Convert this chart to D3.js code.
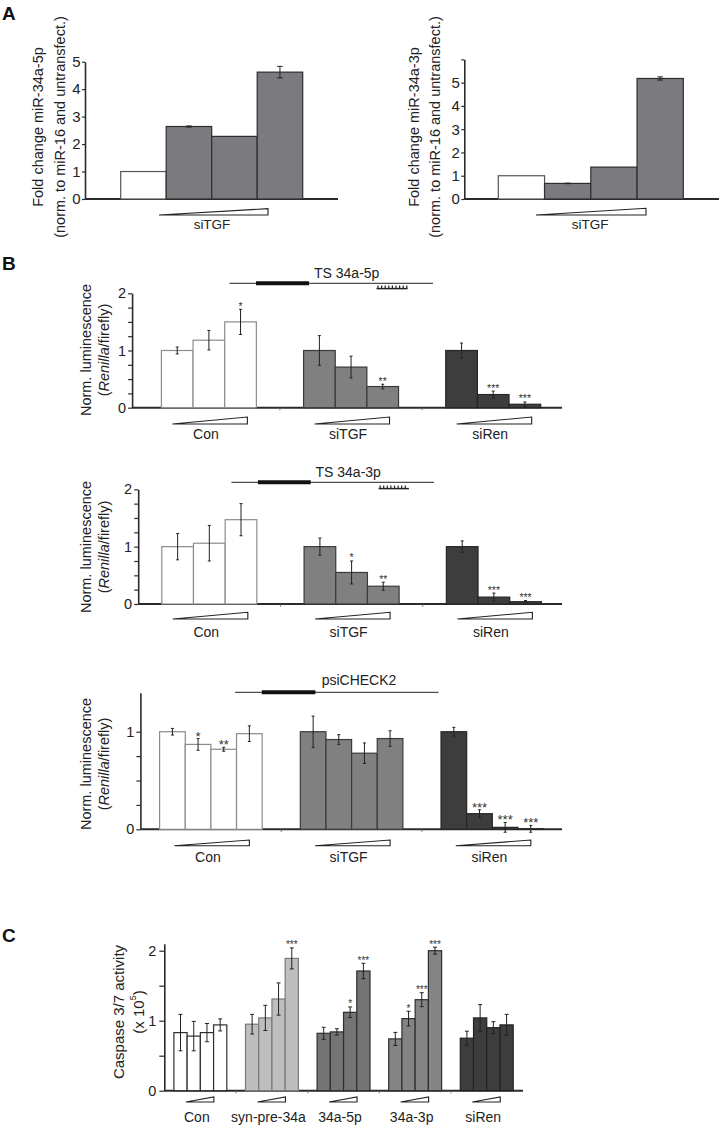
<!DOCTYPE html>
<html><head><meta charset="utf-8">
<script src="https://cdn.jsdelivr.net/npm/d3@7"></script>
<style>
body{margin:0;background:#fff}
svg{display:block;font-family:"Liberation Sans",Arial,Helvetica,sans-serif}
</style></head><body>
<svg id="fig" width="719" height="1127"></svg>
<script>
// ---------------- Panel A data ----------------
const aCategories = ["untransfected", "siTGF low", "siTGF mid", "siTGF high"];
const a5pValues = [1.00, 2.64, 2.28, 4.62];
const a5pErrors = [0, 0.02, 0, 0.21];
const a3pValues = [1.00, 0.67, 1.37, 5.18];
const a3pErrors = [0, 0.01, 0, 0.07];
const a5pTicks = [0, 1, 2, 3, 4, 5];
const a3pTicks = [0, 1, 2, 3, 4, 5, 6];
const a3pTickLabels = ["0", "1", "2", "3", "4", "5", ""];

// ---------------- Panel B data ----------------
const bGroups = ["Con", "siTGF", "siRen"];
const b5pValues = [[1.00, 1.18, 1.50], [1.00, 0.71, 0.37], [1.00, 0.23, 0.06]];
const b5pErrors = [[0.06, 0.17, 0.22], [0.26, 0.19, 0.04], [0.13, 0.06, 0.04]];
const b5pStars  = [["", "", "*"], ["", "", "**"], ["", "***", "***"]];
const b3pValues = [[1.00, 1.06, 1.47], [1.00, 0.55, 0.31], [1.00, 0.12, 0.04]];
const b3pErrors = [[0.23, 0.31, 0.28], [0.15, 0.20, 0.07], [0.10, 0.07, 0.02]];
const b3pStars  = [["", "", ""], ["", "*", "**"], ["", "***", "***"]];
const bPsiValues = [[1.00, 0.87, 0.82, 0.98], [1.00, 0.92, 0.78, 0.93], [1.00, 0.16, 0.02, 0.005]];
const bPsiErrors = [[0.034, 0.06, 0.02, 0.08], [0.16, 0.05, 0.105, 0.08], [0.045, 0.04, 0.05, 0.035]];
const bPsiStars  = [["", "*", "**", ""], ["", "", "", ""], ["", "***", "***", "***"]];
const bTicks = [0, 0.25, 0.5, 0.75, 1, 1.25, 1.5, 1.75, 2];
const bTickLabels = ["0", "", "", "", "1", "", "", "", "2"];
const bPsiTicks = [0, 0.25, 0.5, 0.75, 1];
const bPsiTickLabels = ["0", "", "", "", "1"];

// ---------------- Panel C data ----------------
const cGroups = ["Con", "syn-pre-34a", "34a-5p", "34a-3p", "siRen"];
const cValues = [[0.83, 0.78, 0.83, 0.94], [0.95, 1.04, 1.31, 1.89], [0.82, 0.84, 1.12, 1.71], [0.74, 1.03, 1.30, 2.00], [0.75, 1.04, 0.90, 0.94]];
const cErrors = [[0.26, 0.21, 0.13, 0.086], [0.14, 0.18, 0.23, 0.15], [0.086, 0.045, 0.076, 0.11], [0.093, 0.105, 0.10, 0.05], [0.10, 0.19, 0.086, 0.15]];
const cStars  = [["", "", "", ""], ["", "", "", "***"], ["", "", "*", "***"], ["", "*", "***", "***"], ["", "", "", ""]];
const cTicks = [0, 0.5, 1, 1.5, 2];
const cTickLabels = ["0", "", "1", "", "2"];

const svg = d3.select("#fig");
const FONT = '"Liberation Sans", Arial, Helvetica, sans-serif';

function panel(o) {
  const g = svg.append("g");
  const y = d3.scaleLinear().domain(o.yDomain).range(o.yRange);
  const outer = d3.scaleBand().domain(o.groups).range(o.xRange).paddingInner(o.pad || 0).paddingOuter(0);
  const n = o.values[0].length;
  const inner = d3.scaleBand().domain(d3.range(n)).range([0, outer.bandwidth()]);
  const rows = [];
  o.groups.forEach((gname, gi) => o.values[gi].forEach((v, i) => rows.push({
    gname, gi, i, v, e: o.errors[gi][i], s: o.stars ? o.stars[gi][i] : "",
    fill: o.fill(gi, i), stroke: o.stroke(gi, i)
  })));
  const bx = d => outer(d.gname) + inner(d.i);
  const cx = d => bx(d) + inner.bandwidth() / 2;

  // baseline
  g.append("line").attr("x1", o.axisX).attr("x2", o.baseEnd).attr("y1", y(0)).attr("y2", y(0))
    .attr("stroke", "#2b2b2b").attr("stroke-width", o.baseWidth || 2);
  // separators ticks on baseline
  if (o.sepTicks) {
    const gap = outer.step() - outer.bandwidth();
    o.groups.slice(1).forEach(gn => {
      const sx = outer(gn) - gap / 2;
      g.append("line").attr("x1", sx).attr("x2", sx).attr("y1", y(0)).attr("y2", y(0) + 2.5)
        .attr("stroke", "#666").attr("stroke-width", 1);
    });
  }
  // bars
  g.selectAll("rect.bar").data(rows).join("rect").attr("class", "bar")
    .attr("x", bx).attr("y", d => y(d.v)).attr("width", inner.bandwidth())
    .attr("height", d => y(0) - y(d.v))
    .attr("fill", d => d.fill).attr("stroke", d => d.stroke).attr("stroke-width", o.barStroke || 1.2);
  // error bars
  const eb = rows.filter(d => d.e > 0);
  const cw = o.capW / 2;
  g.selectAll("line.err").data(eb).join("line").attr("class", "err")
    .attr("x1", cx).attr("x2", cx).attr("y1", d => y(d.v + d.e)).attr("y2", d => y(d.v - d.e))
    .attr("stroke", "#222").attr("stroke-width", 1);
  g.selectAll("line.capt").data(eb).join("line").attr("class", "capt")
    .attr("x1", d => cx(d) - cw).attr("x2", d => cx(d) + cw).attr("y1", d => y(d.v + d.e)).attr("y2", d => y(d.v + d.e))
    .attr("stroke", "#222").attr("stroke-width", 1);
  g.selectAll("line.capb").data(eb).join("line").attr("class", "capb")
    .attr("x1", d => cx(d) - cw).attr("x2", d => cx(d) + cw).attr("y1", d => y(d.v - d.e)).attr("y2", d => y(d.v - d.e))
    .attr("stroke", "#222").attr("stroke-width", 1);
  // stars
  g.selectAll("text.star").data(rows.filter(d => d.s)).join("text").attr("class", "star")
    .attr("x", cx).attr("y", d => y(d.v + d.e) + o.starDy)
    .attr("text-anchor", "middle").attr("font-size", o.starFont).attr("fill", "#333")
    .attr("font-family", FONT).text(d => d.s);
  // y axis
  const axis = d3.axisLeft(y).tickValues(o.ticks).tickSize(o.tickLen).tickSizeOuter(0)
    .tickPadding(o.tickPad).tickFormat((d, i) => o.tickLabels[i]);
  const ag = g.append("g").attr("transform", `translate(${o.axisX},0)`).call(axis)
    .attr("font-family", FONT).attr("font-size", o.tickFont);
  ag.select(".domain").attr("stroke", "#2b2b2b").attr("stroke-width", 1.6);
  ag.selectAll(".tick line").attr("stroke", "#2b2b2b").attr("stroke-width", 1.2);
  ag.selectAll(".tick text").attr("fill", "#222");
  // wedges + group labels
  o.groups.forEach((gn, gi) => {
    const c = (o.wedgeCenter ? o.wedgeCenter : outer(gn) + outer.bandwidth() / 2) + o.wedgeShift;
    const x0 = c - o.wedgeW / 2, x1 = c + o.wedgeW / 2;
    g.append("path").attr("d", `M${x0},${o.wedgeY[1]}L${x1},${o.wedgeY[0]}L${x1},${o.wedgeY[1]}Z`)
      .attr("fill", "#fff").attr("stroke", "#222").attr("stroke-width", 1.1).attr("stroke-linejoin", "miter");
    const lab = o.groupLabels ? o.groupLabels[gi] : gn;
    g.append("text").attr("x", c + o.labelShift).attr("y", o.labelY).attr("text-anchor", "middle")
      .attr("font-size", o.labelFont).attr("fill", "#222").attr("font-family", FONT).text(lab);
  });
  // y label
  o.yLabel.forEach((ln, k) => {
    const t = g.append("text").attr("transform", `translate(${o.yLabelX[k]},${o.yLabelCY}) rotate(-90)`)
      .attr("text-anchor", "middle").attr("dominant-baseline", "central")
      .attr("font-size", o.yLabelFont).attr("fill", "#222").attr("font-family", FONT);
    ln.forEach(seg => {
      const ts = t.append("tspan").text(seg.t);
      if (seg.i) ts.attr("font-style", "italic");
      if (seg.sup) ts.attr("baseline-shift", "super").attr("font-size", o.yLabelFont * 0.6);
    });
  });
  return { y, outer };
}

function construct(c) {
  const g = svg.append("g");
  g.append("text").attr("x", c.tx).attr("y", c.ty).attr("text-anchor", "middle")
    .attr("font-size", 14).attr("fill", "#222").attr("font-family", FONT).text(c.title);
  g.append("line").attr("x1", c.l0).attr("x2", c.l1).attr("y1", c.ly).attr("y2", c.ly)
    .attr("stroke", "#222").attr("stroke-width", 1);
  g.append("line").attr("x1", c.t0).attr("x2", c.t1).attr("y1", c.ly).attr("y2", c.ly)
    .attr("stroke", "#111").attr("stroke-width", 4);
  if (c.comb) {
    const [c0, c1, cy] = c.comb;
    g.append("line").attr("x1", c0).attr("x2", c1).attr("y1", cy).attr("y2", cy)
      .attr("stroke", "#222").attr("stroke-width", 1.5);
    d3.range(c0 + 1.5, c1 - 0.5, 3.6).forEach(xx => {
      g.append("line").attr("x1", xx).attr("x2", xx).attr("y1", cy - 3).attr("y2", cy)
        .attr("stroke", "#222").attr("stroke-width", 1.2);
    });
  }
}

// panel letters
[["A", 20], ["B", 270], ["C", 942]].forEach(([t, yy]) => {
  svg.append("text").attr("x", 2).attr("y", yy).attr("font-size", 19).attr("font-weight", "bold")
    .attr("fill", "#111").attr("font-family", FONT).text(t);
});

const GRAY_A = "#7b7b7f";
// ---- Panel A left ----
panel({
  groups: ["all"], values: [a5pValues], errors: [a5pErrors],
  fill: (g, i) => i === 0 ? "#fff" : GRAY_A, stroke: (g, i) => i === 0 ? "#555" : "#2e2e2e",
  xRange: [120.7, 302.7], yDomain: [0, 5], yRange: [199, 61.7],
  ticks: a5pTicks, tickLabels: a5pTicks.map(String), tickLen: 3, tickPad: 1.5, tickFont: 15,
  axisX: 85, baseEnd: 338, capW: 5.5, starDy: -3, starFont: 10,
  wedgeCenter: 211.7, wedgeShift: 1.8, wedgeW: 109, wedgeY: [208.7, 215],
  groupLabels: ["siTGF"], labelShift: -1.5, labelY: 228.5, labelFont: 13.5,
  yLabel: [[{ t: "Fold change miR-34a-5p" }], [{ t: "(norm. to miR-16 and untransfect.)" }]],
  yLabelX: [38, 60], yLabelCY: 127, yLabelFont: 14.5
});
// ---- Panel A right ----
panel({
  groups: ["all"], values: [a3pValues], errors: [a3pErrors],
  fill: (g, i) => i === 0 ? "#fff" : GRAY_A, stroke: (g, i) => i === 0 ? "#555" : "#2e2e2e",
  xRange: [498.3, 683.3], yDomain: [0, 6], yRange: [199, 199 - 6 * 23.27],
  ticks: a3pTicks, tickLabels: a3pTickLabels, tickLen: 3, tickPad: 1.5, tickFont: 15,
  axisX: 464.3, baseEnd: 719, capW: 5.5, starDy: -3, starFont: 10,
  wedgeCenter: 590.8, wedgeShift: 0.2, wedgeW: 110, wedgeY: [208.3, 215],
  groupLabels: ["siTGF"], labelShift: -0.8, labelY: 228.5, labelFont: 13.5,
  yLabel: [[{ t: "Fold change miR-34a-3p" }], [{ t: "(norm. to miR-16 and untransfect.)" }]],
  yLabelX: [414.3, 435], yLabelCY: 127, yLabelFont: 14.5
});

// ---- Panel B ----
const bFill = ["#ffffff", "#808080", "#3d3d3d"];
const bStroke = ["#8c8c8c", "#3a3a3a", "#262626"];
const bYLabel = [[{ t: "Norm. luminescence" }], [{ t: "(" }, { t: "Renilla", i: true }, { t: "/firefly)" }]];
const bCommon = {
  groups: bGroups, fill: (g) => bFill[g], stroke: (g) => bStroke[g],
  tickLen: 4, tickPad: 2, tickFont: 14.5, capW: 3, starFont: 10.5, starDy: 0.5,
  sepTicks: true, wedgeShift: 1, wedgeW: 75, labelShift: -4, labelFont: 14,
  yLabel: bYLabel, yLabelX: [85.7, 103.6], yLabelFont: 14.5, baseEnd: 562
};
panel(Object.assign({}, bCommon, {
  values: b5pValues, errors: b5pErrors, stars: b5pStars,
  xRange: [161.4, 540.7], pad: 0.332, yDomain: [0, 2], yRange: [407.7, 293.3],
  ticks: bTicks, tickLabels: bTickLabels, axisX: 132.1,
  wedgeY: [417, 424], labelY: 439, yLabelCY: 350
}));
construct({ title: "TS 34a-5p", tx: 346.7, ty: 277.7, ly: 283.3, l0: 229.5, l1: 433, t0: 256, t1: 309, comb: [376.5, 407.5, 288.6] });

panel(Object.assign({}, bCommon, {
  values: b3pValues, errors: b3pErrors, stars: b3pStars,
  xRange: [161.8, 541.4], pad: 0.332, yDomain: [0, 2], yRange: [604, 489.3],
  ticks: bTicks, tickLabels: bTickLabels, axisX: 138.2,
  wedgeY: [612.3, 619], labelY: 636.5, yLabelCY: 547
}));
construct({ title: "TS 34a-3p", tx: 348.2, ty: 477, ly: 482.3, l0: 231.4, l1: 434, t0: 257.9, t1: 310.7, comb: [378.6, 408.9, 488.6] });

panel(Object.assign({}, bCommon, {
  values: bPsiValues, errors: bPsiErrors, stars: bPsiStars,
  xRange: [159.6, 543.6], pad: 0.271, yDomain: [0, 1.4], yRange: [829.3, 692.7],
  ticks: bPsiTicks, tickLabels: bPsiTickLabels, axisX: 140.4, starFont: 13, starDy: 2,
  wedgeY: [840, 845.7], labelY: 862, yLabelCY: 764
}));
construct({ title: "psiCHECK2", tx: 359, ty: 685, ly: 692.3, l0: 235, l1: 438.6, t0: 261.8, t1: 315.4 });

// ---- Panel C ----
const cFill = ["#ffffff", "#bebebe", "#747474", "#848484", "#3d3d3d"];
const cStroke = ["#2e2e2e", "#7a7a7a", "#2e2e2e", "#2e2e2e", "#222222"];
panel({
  groups: cGroups, values: cValues, errors: cErrors, stars: cStars,
  fill: (g) => cFill[g], stroke: (g) => cStroke[g],
  xRange: [173.9, 513.2], pad: 0.261, yDomain: [0, 2.1], yRange: [1090.7, 1090.7 - 2.1 * 70],
  ticks: cTicks, tickLabels: cTickLabels, tickLen: 5, tickPad: 3, tickFont: 14.5,
  axisX: 164.3, baseEnd: 523, capW: 4, starFont: 10, starDy: 0.5, sepTicks: true,
  wedgeShift: -0.5, wedgeW: 28, wedgeY: [1097, 1102], labelShift: -3, labelY: 1122, labelFont: 14,
  yLabel: [[{ t: "Caspase 3/7 activity" }], [{ t: "(x 10" }, { t: "5", sup: true }, { t: ")" }]],
  yLabelX: [117.9, 137.5], yLabelCY: 1012, yLabelFont: 15
});
</script>
</body></html>
